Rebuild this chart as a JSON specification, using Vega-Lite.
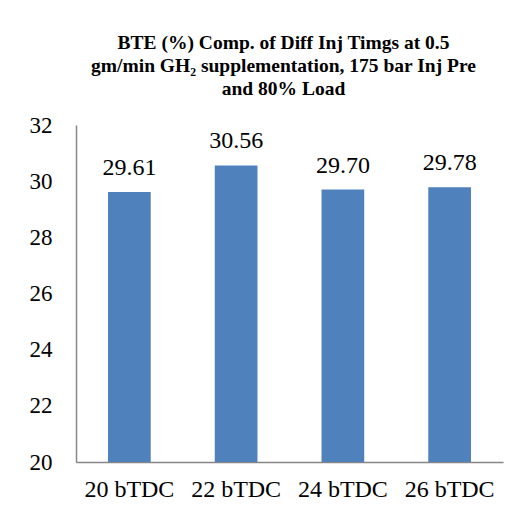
{
  "$schema": "https://vega.github.io/schema/vega-lite/v6.json",
  "width": 427,
  "height": 337,
  "autosize": {"type": "none"},
  "padding": {"left": 76, "top": 125, "right": 29, "bottom": 59},
  "background": "white",
  "config": {
    "view": {"stroke": null},
    "font": "Liberation Serif"
  },
  "title": {
    "text": ["BTE (%) Comp. of Diff Inj Timgs at 0.5", "gm/min GH₂ supplementation, 175 bar Inj Pre", "and 80% Load"],
    "font": "Liberation Serif",
    "fontSize": 19.5,
    "fontWeight": "bold",
    "color": "black",
    "lineHeight": 23,
    "anchor": "middle",
    "dx": -6,
    "offset": 15
  },
  "data": {
    "values": [
      {"timing": "20 bTDC", "bte": 29.61, "label": "29.61"},
      {"timing": "22 bTDC", "bte": 30.56, "label": "30.56"},
      {"timing": "24 bTDC", "bte": 29.70, "label": "29.70"},
      {"timing": "26 bTDC", "bte": 29.78, "label": "29.78"}
    ]
  },
  "encoding": {
    "x": {
      "field": "timing", "type": "nominal", "sort": null,
      "scale": {"paddingInner": 0.6, "paddingOuter": 0.3},
      "axis": {"title": null, "labelAngle": 0, "labelFont": "Liberation Serif", "labelFontSize": 24, "labelColor": "black", "ticks": false, "labelPadding": 15, "domainColor": "#868686", "domainWidth": 1.5}
    },
    "y": {
      "field": "bte", "type": "quantitative",
      "scale": {"domain": [20, 32], "zero": false, "nice": false, "clamp": true},
      "axis": {"title": null, "values": [20, 22, 24, 26, 28, 30, 32], "grid": false, "ticks": false, "labelFont": "Liberation Serif", "labelFontSize": 23, "labelColor": "black", "labelPadding": 24, "domainColor": "#868686", "domainWidth": 1.5}
    }
  },
  "layer": [
    {"mark": {"type": "bar", "color": "#4F81BD"}},
    {"mark": {"type": "text", "baseline": "alphabetic", "dy": -17, "font": "Liberation Serif", "fontSize": 24, "color": "black"},
     "encoding": {"text": {"field": "label"}}}
  ]
}
